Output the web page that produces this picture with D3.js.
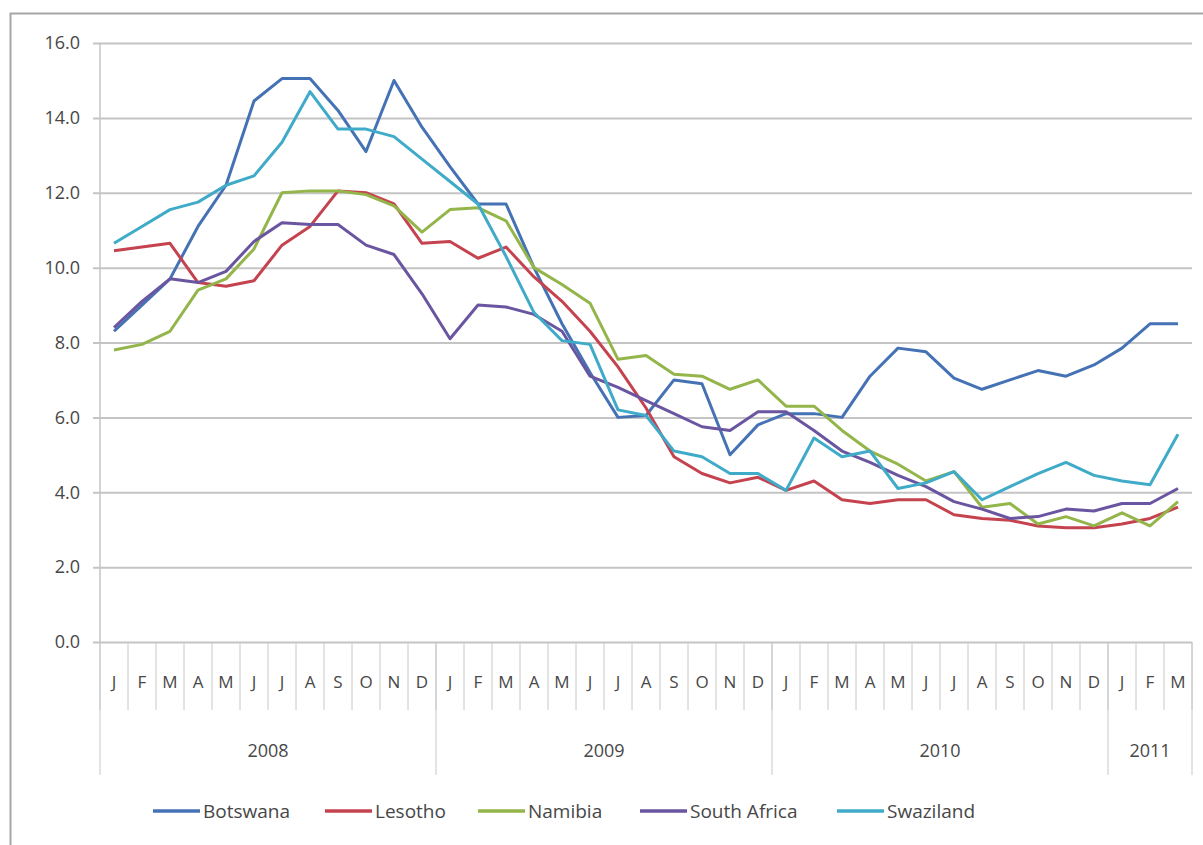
<!DOCTYPE html>
<html>
<head>
<meta charset="utf-8">
<script src="https://cdnjs.cloudflare.com/ajax/libs/d3/7.8.5/d3.min.js"></script>
<style>
  body { margin: 0; background: #fff; }
  svg text { font-family: "Liberation Sans Narrow", "Open Sans", "Liberation Sans", sans-serif; fill: #474747; }
</style>
</head>
<body>
<div id="chart"></div>
<script>
var month_letters = ["J","F","M","A","M","J","J","A","S","O","N","D"];
var years = ["2008", "2009", "2010", "2011"];
var year_months = [12, 12, 12, 3];
var y_ticks = [0, 2, 4, 6, 8, 10, 12, 14, 16];

var countries = ["Botswana", "Lesotho", "Namibia", "South Africa", "Swaziland"];

var botswana = [8.3, 9.0, 9.7, 11.1, 12.2, 14.45, 15.05, 15.05, 14.2, 13.1, 15.0, 13.75,
  12.7, 11.7, 11.7, 10.0, 8.5, 7.2, 6.0, 6.05, 7.0, 6.9, 5.0, 5.8,
  6.1, 6.1, 6.0, 7.1, 7.85, 7.75, 7.05, 6.75, 7.0, 7.25, 7.1, 7.4,
  7.85, 8.5, 8.5];
var lesotho = [10.45, 10.55, 10.65, 9.6, 9.5, 9.65, 10.6, 11.1, 12.05, 12.0, 11.7, 10.65,
  10.7, 10.25, 10.55, 9.75, 9.1, 8.3, 7.35, 6.25, 4.95, 4.5, 4.25, 4.4,
  4.05, 4.3, 3.8, 3.7, 3.8, 3.8, 3.4, 3.3, 3.25, 3.1, 3.05, 3.05,
  3.15, 3.3, 3.6];
var namibia = [7.8, 7.95, 8.3, 9.4, 9.7, 10.5, 12.0, 12.05, 12.05, 11.95, 11.65, 10.95,
  11.55, 11.6, 11.25, 10.0, 9.55, 9.05, 7.55, 7.65, 7.15, 7.1, 6.75, 7.0,
  6.3, 6.3, 5.65, 5.1, 4.75, 4.3, 4.55, 3.6, 3.7, 3.15, 3.35, 3.1,
  3.45, 3.1, 3.75];
var south_africa = [8.4, 9.1, 9.7, 9.6, 9.9, 10.7, 11.2, 11.15, 11.15, 10.6, 10.35, 9.3,
  8.1, 9.0, 8.95, 8.75, 8.3, 7.1, 6.8, 6.45, 6.1, 5.75, 5.65, 6.15,
  6.15, 5.65, 5.1, 4.8, 4.45, 4.15, 3.75, 3.55, 3.3, 3.35, 3.55, 3.5,
  3.7, 3.7, 4.1];
var swaziland = [10.65, 11.1, 11.55, 11.75, 12.2, 12.45, 13.35, 14.7, 13.7, 13.7, 13.5, 12.9,
  12.3, 11.7, 10.3, 8.8, 8.05, 7.95, 6.2, 6.05, 5.1, 4.95, 4.5, 4.5,
  4.05, 5.45, 4.95, 5.1, 4.1, 4.25, 4.55, 3.8, 4.15, 4.5, 4.8, 4.45,
  4.3, 4.2, 5.55];

var series_values = [botswana, lesotho, namibia, south_africa, swaziland];
var colors = ["#4472b4", "#c4434f", "#93b54a", "#6a55a0", "#3fabc8"];

// build month list from the year spans
var months = [];
years.forEach(function(yr, yi) {
  for (var m = 0; m < year_months[yi]; m++) {
    months.push({ key: yr + "-" + m, label: month_letters[m], year: yr });
  }
});

var W = 1203, H = 845;
var margin = {top: 43, right: 11, bottom: 203, left: 100};
var width = W - margin.left - margin.right;
var height = H - margin.top - margin.bottom;

var svg = d3.select("#chart").append("svg")
  .attr("width", W)
  .attr("height", H);

// outer chart border
svg.append("rect")
  .attr("x", 10.5).attr("y", 13.5)
  .attr("width", W + 20).attr("height", H + 20)
  .attr("fill", "none")
  .attr("stroke", "#a6a6a6")
  .attr("stroke-width", 2);

var g = svg.append("g")
  .attr("transform", "translate(" + margin.left + "," + margin.top + ")");

var x = d3.scaleBand()
  .domain(months.map(function(d) { return d.key; }))
  .range([0, width])
  .padding(0);

var y = d3.scaleLinear()
  .domain([0, 16])
  .range([height, 0]);

// gridlines + y labels
var yAxis = d3.axisLeft(y)
  .tickValues(y_ticks)
  .tickSize(-width - 7)
  .tickPadding(13)
  .tickFormat(d3.format(".1f"));

g.append("g")
  .attr("class", "y axis")
  .attr("transform", "translate(-7,0)")
  .call(yAxis)
  .call(function(s) {
    s.select(".domain").remove();
    s.selectAll(".tick line").attr("stroke", "#c4c4c4").attr("stroke-width", 2);
    s.selectAll(".tick text").style("font-size", "18px").attr("fill", "#474747");
  });

// vertical axis line
g.append("line")
  .attr("x1", 0).attr("x2", 0)
  .attr("y1", 0).attr("y2", height)
  .attr("stroke", "#c4c4c4").attr("stroke-width", 1.5);

// month labels
var xAxis = d3.axisBottom(x)
  .tickSize(0)
  .tickPadding(34)
  .tickFormat(function(k, i) { return months[i].label; });

g.append("g")
  .attr("class", "x axis")
  .attr("transform", "translate(0," + height + ")")
  .call(xAxis)
  .call(function(s) {
    s.select(".domain").remove();
    s.selectAll(".tick text").style("font-size", "17px").attr("fill", "#474747");
  });

// month separators
var sep = g.append("g").attr("transform", "translate(0," + height + ")");
months.forEach(function(d, i) {
  sep.append("line")
    .attr("x1", x(d.key)).attr("x2", x(d.key))
    .attr("y1", 0).attr("y2", 68)
    .attr("stroke", "#c8c8c8").attr("stroke-width", 1);
});
sep.append("line")
  .attr("x1", width).attr("x2", width)
  .attr("y1", 0).attr("y2", 68)
  .attr("stroke", "#c8c8c8");

// year separators + labels
var start = 0;
years.forEach(function(yr, yi) {
  var x0 = x(months[start].key);
  var x1 = x(months[start + year_months[yi] - 1].key) + x.bandwidth();
  sep.append("line")
    .attr("x1", x0).attr("x2", x0)
    .attr("y1", 0).attr("y2", 133)
    .attr("stroke", "#c8c8c8");
  sep.append("text")
    .attr("x", (x0 + x1) / 2)
    .attr("y", 115)
    .attr("text-anchor", "middle")
    .style("font-size", "18px")
    .text(yr);
  start += year_months[yi];
});
sep.append("line")
  .attr("x1", width).attr("x2", width)
  .attr("y1", 0).attr("y2", 133)
  .attr("stroke", "#c8c8c8");

// lines
var line = d3.line()
  .x(function(d, i) { return x(months[i].key) + x.bandwidth() / 2; })
  .y(function(d) { return y(d); });

series_values.forEach(function(vals, si) {
  g.append("path")
    .datum(vals)
    .attr("fill", "none")
    .attr("stroke", colors[si])
    .attr("stroke-width", 3)
    .attr("stroke-linejoin", "round")
    .attr("d", line);
});

// legend
var legend_x = [153, 325, 478, 640, 837];
var legend = svg.append("g").attr("transform", "translate(0,811)");
countries.forEach(function(c, i) {
  legend.append("line")
    .attr("x1", legend_x[i]).attr("x2", legend_x[i] + 47)
    .attr("y1", 0).attr("y2", 0)
    .attr("stroke", colors[i]).attr("stroke-width", 3.5);
  legend.append("text")
    .attr("x", legend_x[i] + 50)
    .attr("y", 7)
    .style("font-size", "19px")
    .text(c);
});
</script>
</body>
</html>
